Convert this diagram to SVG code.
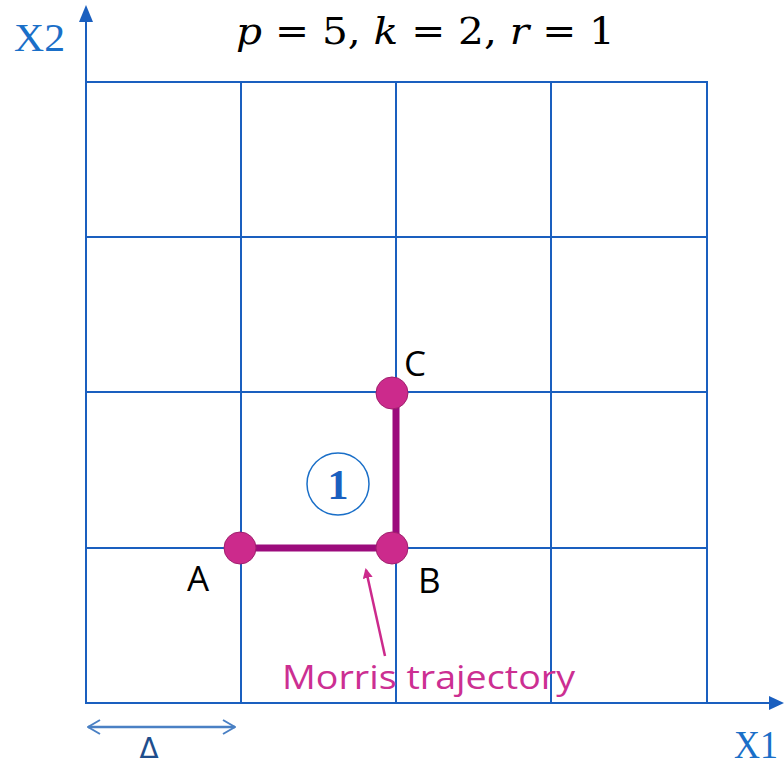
<svg xmlns="http://www.w3.org/2000/svg" width="784" height="767" viewBox="0 0 784 767">
<style>
.grid{stroke:#1a5fbf;stroke-width:2;fill:none}
.lbl{font-family:"Open Sans","Liberation Sans",Arial,sans-serif;font-size:35px;fill:#000}
.ax{font-family:"Liberation Serif","Times New Roman",serif;font-size:40px;fill:#1a6fc8}
</style>
<defs>
<marker id="mh" markerWidth="10" markerHeight="10" refX="8" refY="5" orient="auto" markerUnits="userSpaceOnUse" viewBox="0 0 10 10"><path d="M0,0 L10,5 L0,10 z" fill="#cc2a8c"/></marker>
<marker id="dh" markerWidth="14" markerHeight="16" refX="13" refY="8" orient="auto-start-reverse" markerUnits="userSpaceOnUse"><path d="M1,1 L13,8 L1,15" fill="none" stroke="#4a80c4" stroke-width="2"/></marker>
</defs>
<g id="grid">
<rect class="grid" x="86" y="82" width="621" height="621"/>
<path class="grid" d="M241,82V703M396,82V703M551,82V703M86,237H707M86,392H707M86,548H707"/>
</g>
<g id="axes">
<path d="M86,703V18" stroke="#1a5fbf" stroke-width="2"/>
<path d="M86,5 L79,22 L93,22 z" fill="#1a5fbf"/>
<path d="M86,703H770" stroke="#1a5fbf" stroke-width="2"/>
<path d="M784,703 L769,696 L769,710 z" fill="#1a5fbf"/>
<text class="ax" x="14" y="51" textLength="51" lengthAdjust="spacingAndGlyphs">X2</text>
<text class="ax" x="734" y="758" textLength="44" lengthAdjust="spacingAndGlyphs">X1</text>
</g>
<g id="title"><text x="236" y="44" font-family="DejaVu Serif,serif" font-size="38" fill="#000" textLength="379" lengthAdjust="spacingAndGlyphs"><tspan font-style="italic">p</tspan> = 5, <tspan font-style="italic">k</tspan> = 2, <tspan font-style="italic">r</tspan> = 1</text></g>
<g id="connectors">
<path d="M241,548H396V392" stroke="#9c0b7c" stroke-width="7" fill="none"/>
<line x1="385" y1="656" x2="366" y2="570" stroke="#cc2a8c" stroke-width="2.5" marker-end="url(#mh)"/>
<line x1="88" y1="727" x2="235" y2="727" stroke="#4a80c4" stroke-width="2.5" marker-start="url(#dh)" marker-end="url(#dh)"/>
</g>
<g id="A"><circle cx="240" cy="548" r="16" fill="#cc2a8c" stroke="#a0206e" stroke-width="1"/><text class="lbl" x="187" y="591">A</text></g>
<g id="B"><circle cx="392" cy="548" r="16" fill="#cc2a8c" stroke="#a0206e" stroke-width="1"/><text class="lbl" x="418" y="593">B</text></g>
<g id="C"><circle cx="392" cy="393" r="16" fill="#cc2a8c" stroke="#a0206e" stroke-width="1"/><text class="lbl" x="404" y="376">C</text></g>
<g id="step1"><circle cx="338" cy="484" r="31" fill="none" stroke="#1a6fc8" stroke-width="1.5"/><text x="338" y="499" text-anchor="middle" font-family="Liberation Serif,serif" font-weight="bold" font-size="42" fill="#1a5fbf">1</text></g>
<g id="morris"><text x="282" y="689" font-family="Open Sans,Liberation Sans,Arial,sans-serif" font-size="33" fill="#cc2f92" textLength="293" lengthAdjust="spacingAndGlyphs">Morris trajectory</text></g>
<g id="delta"><text x="149" y="758" text-anchor="middle" font-family="DejaVu Sans,sans-serif" font-size="28" fill="#1f4e8c">Δ</text></g>
</svg>
